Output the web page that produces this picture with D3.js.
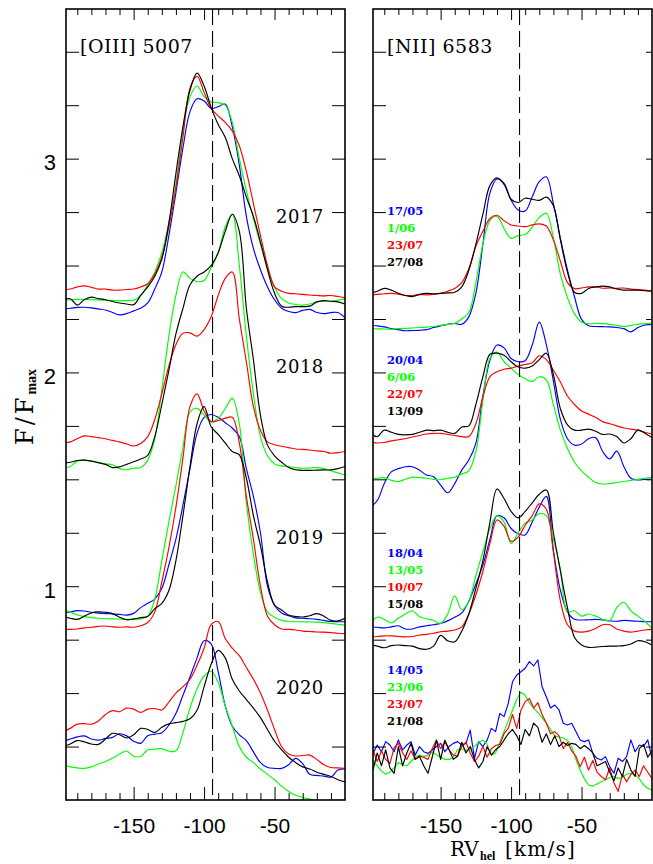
<!DOCTYPE html>
<html>
<head>
<meta charset="utf-8">
<title>[OIII] 5007 and [NII] 6583 line profiles</title>
<script src="https://cdn.jsdelivr.net/npm/d3@7/dist/d3.min.js"></script>
<style>
  body { margin: 0; background: #fff; }
  svg { display: block; }
</style>
</head>
<body>
<div id="chart"></div>
<script>
// velocity grids (km/s)
const rv = [-200,-195,-190,-185,-180,-175,-170,-165,-160,-155,-150,-145,-140,-135,-130,-125,-120,-115,-110,-105,-100,
  -95,-90,-85,-80,-75,-70,-65,-60,-55,-50,-45,-40,-35,-30,-25,-20,-15,-10,-5,0];
const rvFine = [-198,-195,-192,-189,-186,-183,-180,-177,-174,-171,-168,-165,-162,-159,-156,-153,-150,-147,-144,-141,
  -138,-135,-132,-129,-126,-123,-120,-117,-114,-111,-108,-105,-102,-99,-96,-93,-90,-87,-84,-81,-78,-75,-72,-69,-66,
  -63,-60,-57,-54,-51,-48,-45,-42,-39,-36,-33,-30,-27,-24,-21,-18,-15,-12,-9,-6,-3,0];

// [OIII] 5007, F/Fmax (offset per year), on rv
const o3_2017_blue = [2.297,2.300,2.304,2.305,2.302,2.297,2.292,2.28,2.269,2.275,2.288,2.300,2.325,2.39,2.47,2.64,2.84,3.05,3.22,3.28,3.27,3.235,3.243,3.255,3.15,2.97,2.73,2.58,2.48,2.40,2.34,2.30,2.285,2.28,2.29,2.295,2.28,2.275,2.28,2.28,2.255];
const o3_2017_green = [2.339,2.34,2.342,2.342,2.34,2.339,2.338,2.337,2.336,2.336,2.337,2.36,2.41,2.47,2.56,2.70,2.88,3.13,3.29,3.34,3.29,3.265,3.262,3.25,3.17,3.00,2.85,2.72,2.60,2.49,2.40,2.345,2.325,2.318,2.315,2.32,2.33,2.333,2.333,2.338,2.344];
const o3_2017_red = [2.385,2.39,2.40,2.405,2.398,2.39,2.39,2.385,2.385,2.388,2.39,2.40,2.415,2.46,2.54,2.68,2.865,3.10,3.33,3.385,3.31,3.235,3.20,3.17,3.13,3.06,2.94,2.79,2.64,2.50,2.40,2.38,2.37,2.368,2.365,2.362,2.36,2.358,2.36,2.355,2.35];
const o3_2017_black = [2.34,2.345,2.315,2.34,2.352,2.345,2.34,2.332,2.325,2.32,2.317,2.36,2.40,2.45,2.53,2.70,2.93,3.15,3.32,3.40,3.34,3.24,3.16,3.10,3.00,2.92,2.82,2.73,2.61,2.48,2.37,2.31,2.305,2.308,2.308,2.31,2.33,2.336,2.333,2.33,2.32];

const o3_2018_green = [1.552,1.56,1.585,1.59,1.585,1.578,1.572,1.568,1.55,1.545,1.552,1.555,1.59,1.69,1.92,2.17,2.36,2.47,2.44,2.425,2.43,2.49,2.56,2.68,2.74,2.50,2.17,1.90,1.70,1.61,1.572,1.563,1.56,1.555,1.552,1.553,1.555,1.55,1.54,1.53,1.52];
const o3_2018_red = [1.67,1.675,1.69,1.703,1.70,1.695,1.69,1.682,1.675,1.665,1.656,1.668,1.70,1.78,1.90,2.03,2.13,2.183,2.185,2.17,2.20,2.26,2.36,2.44,2.47,2.25,2.05,1.84,1.73,1.675,1.662,1.655,1.648,1.642,1.64,1.637,1.633,1.63,1.622,1.625,1.63];
const o3_2018_black = [1.575,1.58,1.588,1.59,1.585,1.578,1.57,1.555,1.558,1.57,1.582,1.595,1.612,1.70,1.85,2.01,2.18,2.30,2.41,2.45,2.47,2.50,2.56,2.66,2.74,2.66,2.30,2.06,1.80,1.66,1.61,1.58,1.555,1.545,1.542,1.542,1.543,1.544,1.544,1.55,1.56];

const o3_2019_blue = [0.875,0.88,0.886,0.884,0.878,0.874,0.872,0.87,0.868,0.865,0.873,0.90,0.92,0.94,0.99,1.10,1.22,1.38,1.55,1.715,1.79,1.803,1.79,1.765,1.74,1.70,1.55,1.42,1.25,1.00,0.91,0.875,0.862,0.852,0.85,0.848,0.845,0.84,0.835,0.834,0.834];
const o3_2019_green = [0.89,0.88,0.865,0.858,0.853,0.85,0.848,0.847,0.846,0.845,0.845,0.847,0.86,0.94,1.12,1.30,1.47,1.65,1.815,1.832,1.80,1.77,1.785,1.83,1.88,1.76,1.39,1.15,0.97,0.88,0.855,0.84,0.836,0.834,0.834,0.833,0.832,0.83,0.826,0.822,0.818];
const o3_2019_red = [0.80,0.798,0.80,0.805,0.808,0.812,0.814,0.81,0.808,0.81,0.808,0.815,0.83,0.88,1.02,1.18,1.37,1.60,1.84,1.90,1.82,1.77,1.775,1.786,1.79,1.67,1.42,1.22,1.00,0.86,0.82,0.80,0.798,0.795,0.79,0.788,0.786,0.785,0.783,0.78,0.778];
const o3_2019_black = [0.86,0.85,0.845,0.86,0.875,0.88,0.878,0.872,0.855,0.843,0.847,0.853,0.858,0.895,0.92,0.98,1.12,1.33,1.56,1.76,1.84,1.746,1.71,1.67,1.63,1.614,1.505,1.33,1.19,1.02,0.912,0.889,0.865,0.858,0.856,0.862,0.872,0.86,0.84,0.838,0.85];

const o3_2020_blue = [0.273,0.285,0.295,0.30,0.285,0.28,0.288,0.293,0.31,0.30,0.275,0.265,0.30,0.308,0.315,0.35,0.405,0.49,0.575,0.665,0.745,0.73,0.60,0.44,0.345,0.305,0.278,0.225,0.175,0.152,0.148,0.148,0.165,0.195,0.17,0.12,0.115,0.112,0.107,0.14,0.145];
const o3_2020_green = [0.163,0.155,0.15,0.148,0.155,0.168,0.18,0.195,0.215,0.229,0.205,0.205,0.234,0.238,0.24,0.228,0.23,0.315,0.43,0.52,0.58,0.602,0.55,0.44,0.345,0.25,0.20,0.175,0.145,0.12,0.095,0.065,0.04,0.022,0.012,0.004,-0.004,-0.006,-0.004,0.0,-0.002];
const o3_2020_red = [0.32,0.335,0.355,0.357,0.355,0.37,0.40,0.418,0.413,0.43,0.425,0.41,0.425,0.428,0.421,0.458,0.50,0.53,0.565,0.63,0.71,0.82,0.835,0.755,0.71,0.675,0.62,0.565,0.50,0.42,0.33,0.25,0.215,0.206,0.208,0.21,0.19,0.165,0.152,0.15,0.148];
const o3_2020_black = [0.25,0.262,0.278,0.272,0.262,0.26,0.285,0.312,0.305,0.29,0.305,0.335,0.33,0.316,0.34,0.356,0.362,0.368,0.38,0.42,0.53,0.635,0.70,0.665,0.565,0.51,0.47,0.43,0.385,0.33,0.275,0.235,0.20,0.175,0.155,0.145,0.13,0.12,0.11,0.095,0.085];

// [NII] 6583, on rv (2017-2019) and rvFine (2020)
const n2_2017_blue = [2.22,2.218,2.213,2.205,2.20,2.195,2.196,2.197,2.20,2.21,2.218,2.225,2.229,2.225,2.26,2.37,2.60,2.84,2.905,2.884,2.806,2.76,2.755,2.822,2.892,2.915,2.79,2.627,2.478,2.354,2.248,2.218,2.215,2.214,2.213,2.21,2.205,2.19,2.21,2.222,2.225];
const n2_2017_green = [2.205,2.204,2.203,2.202,2.205,2.206,2.208,2.21,2.212,2.215,2.22,2.225,2.23,2.25,2.28,2.42,2.60,2.71,2.73,2.673,2.627,2.64,2.645,2.68,2.725,2.745,2.63,2.46,2.35,2.275,2.235,2.228,2.23,2.228,2.225,2.22,2.215,2.22,2.225,2.228,2.23];
const n2_2017_red = [2.362,2.365,2.368,2.37,2.366,2.36,2.36,2.364,2.363,2.365,2.37,2.38,2.393,2.42,2.485,2.59,2.66,2.72,2.735,2.71,2.69,2.685,2.682,2.69,2.695,2.685,2.62,2.52,2.42,2.392,2.395,2.40,2.40,2.394,2.395,2.393,2.395,2.39,2.388,2.385,2.38];
const n2_2017_black = [2.37,2.38,2.393,2.385,2.37,2.36,2.355,2.365,2.37,2.368,2.37,2.372,2.375,2.40,2.478,2.60,2.74,2.875,2.91,2.88,2.81,2.795,2.815,2.81,2.805,2.82,2.78,2.62,2.47,2.375,2.37,2.393,2.40,2.404,2.40,2.39,2.385,2.385,2.385,2.382,2.38];

const n2_2018_blue = [1.37,1.40,1.48,1.535,1.55,1.559,1.559,1.543,1.52,1.512,1.473,1.437,1.48,1.543,1.59,1.668,1.89,2.058,2.128,2.115,2.065,2.05,2.055,2.128,2.235,2.13,1.96,1.78,1.69,1.66,1.665,1.69,1.695,1.63,1.595,1.632,1.56,1.505,1.497,1.50,1.50];
const n2_2018_green = [1.504,1.505,1.508,1.495,1.49,1.50,1.51,1.508,1.505,1.50,1.498,1.505,1.51,1.525,1.54,1.63,1.87,2.065,2.095,2.05,2.02,1.99,1.97,1.958,1.98,1.965,1.85,1.73,1.645,1.58,1.54,1.51,1.485,1.478,1.48,1.485,1.49,1.495,1.50,1.505,1.51];
const n2_2018_red = [1.676,1.67,1.672,1.68,1.685,1.69,1.698,1.705,1.712,1.715,1.715,1.71,1.705,1.70,1.70,1.76,1.886,1.98,2.003,2.015,2.02,2.03,2.037,2.045,2.078,2.06,2.01,1.955,1.89,1.85,1.82,1.805,1.79,1.77,1.76,1.75,1.74,1.735,1.73,1.72,1.712];
const n2_2018_black = [1.715,1.70,1.73,1.72,1.71,1.708,1.71,1.72,1.73,1.728,1.73,1.72,1.715,1.745,1.75,1.85,1.98,2.085,2.09,2.08,2.05,2.025,2.02,2.03,2.06,2.09,1.99,1.83,1.755,1.73,1.73,1.735,1.725,1.71,1.712,1.70,1.67,1.69,1.73,1.715,1.695];

const n2_2019_blue = [0.81,0.808,0.805,0.81,0.815,0.80,0.80,0.81,0.815,0.82,0.826,0.838,0.855,0.875,0.93,1.01,1.10,1.22,1.33,1.32,1.27,1.245,1.24,1.30,1.37,1.42,1.17,0.98,0.88,0.845,0.842,0.843,0.845,0.842,0.838,0.836,0.84,0.838,0.836,0.834,0.834];
const n2_2019_green = [0.826,0.855,0.845,0.828,0.85,0.87,0.885,0.857,0.848,0.84,0.826,0.87,0.955,0.89,0.93,1.05,1.16,1.27,1.33,1.30,1.20,1.25,1.295,1.31,1.34,1.33,1.22,1.08,0.88,0.885,0.86,0.87,0.86,0.845,0.84,0.90,0.925,0.885,0.86,0.835,0.803];
const n2_2019_red = [0.761,0.765,0.768,0.768,0.765,0.763,0.765,0.772,0.775,0.78,0.787,0.79,0.795,0.81,0.87,0.96,1.07,1.20,1.31,1.28,1.21,1.23,1.285,1.33,1.385,1.36,1.16,0.93,0.82,0.79,0.785,0.79,0.802,0.82,0.82,0.80,0.79,0.785,0.79,0.795,0.798];
const n2_2019_black = [0.725,0.72,0.712,0.722,0.725,0.722,0.72,0.708,0.705,0.72,0.77,0.745,0.74,0.79,0.87,0.99,1.12,1.30,1.455,1.41,1.35,1.32,1.35,1.39,1.43,1.45,1.25,1.07,0.90,0.76,0.725,0.714,0.715,0.718,0.72,0.72,0.722,0.73,0.745,0.74,0.725];

const n2_2020_blue = [0.218,0.257,0.226,0.273,0.257,0.226,0.281,0.234,0.257,0.273,0.21,0.25,0.226,0.218,0.234,0.25,0.265,0.226,0.25,0.265,
  0.273,0.257,0.265,0.327,0.195,0.273,0.25,0.28,0.335,0.32,0.405,0.39,0.452,0.553,0.585,0.60,0.616,0.647,0.627,0.655,
  0.53,0.483,0.43,0.444,0.421,0.359,0.351,0.359,0.32,0.281,0.273,0.281,0.218,0.195,0.187,0.203,0.156,0.125,0.195,0.18,
  0.203,0.281,0.226,0.257,0.25,0.281,0.195];
const n2_2020_green = [0.187,0.16,0.135,0.12,0.13,0.15,0.175,0.165,0.16,0.18,0.20,0.21,0.203,0.21,0.225,0.212,0.20,0.19,0.19,0.20,
  0.235,0.24,0.232,0.24,0.25,0.27,0.28,0.26,0.21,0.22,0.27,0.32,0.37,0.42,0.47,0.505,0.49,0.455,0.43,0.41,
  0.385,0.36,0.33,0.30,0.295,0.29,0.28,0.25,0.19,0.14,0.10,0.07,0.065,0.075,0.085,0.095,0.105,0.11,0.10,0.105,
  0.12,0.125,0.12,0.10,0.07,0.055,0.047];
const n2_2020_red = [0.234,0.18,0.23,0.19,0.17,0.245,0.265,0.22,0.19,0.23,0.19,0.205,0.20,0.19,0.24,0.28,0.24,0.272,0.235,0.21,
  0.205,0.25,0.27,0.22,0.18,0.205,0.25,0.20,0.24,0.255,0.26,0.31,0.335,0.40,0.335,0.42,0.46,0.475,0.43,0.455,
  0.40,0.36,0.31,0.32,0.30,0.24,0.27,0.23,0.205,0.155,0.20,0.14,0.185,0.13,0.11,0.095,0.15,0.08,0.04,0.12,
  0.085,0.12,0.14,0.11,0.16,0.13,0.10];
const n2_2020_black = [0.14,0.22,0.16,0.235,0.15,0.125,0.25,0.16,0.22,0.265,0.19,0.205,0.16,0.125,0.20,0.28,0.19,0.28,0.235,0.19,
  0.205,0.27,0.22,0.25,0.19,0.15,0.18,0.25,0.21,0.235,0.25,0.28,0.31,0.33,0.30,0.26,0.33,0.30,0.36,0.34,
  0.27,0.31,0.26,0.30,0.25,0.27,0.255,0.265,0.26,0.24,0.255,0.24,0.22,0.16,0.17,0.18,0.13,0.09,0.15,0.11,
  0.19,0.14,0.11,0.24,0.26,0.20,0.23];

// labels, ticks
const years = ["2017", "2018", "2019", "2020"];
const seriesColors = ["#0000ff", "#00ff00", "#ff0000", "#000000"];
const niiDates = [
  ["17/05", "1/06", "23/07", "27/08"],
  ["20/04", "6/06", "22/07", "13/09"],
  ["18/04", "13/05", "10/07", "15/08"],
  ["14/05", "23/06", "23/07", "21/08"]
];
const xMajorTicks = [-150, -100, -50];
const xMinorTicks = [-190, -180, -170, -160, -140, -130, -120, -110, -90, -80, -70, -60, -40, -30, -20, -10];
const yTicks = [0.25, 0.5, 0.75, 1, 1.25, 1.5, 1.75, 2, 2.25, 2.5, 2.75, 3, 3.25, 3.5];
const yTickLabels = [1, 2, 3];
const systemicRV = -94;

const oiiiSets = [
  [o3_2017_blue, o3_2017_green, o3_2017_red, o3_2017_black],
  [null, o3_2018_green, o3_2018_red, o3_2018_black],
  [o3_2019_blue, o3_2019_green, o3_2019_red, o3_2019_black],
  [o3_2020_blue, o3_2020_green, o3_2020_red, o3_2020_black]
];
const niiSets = [
  [n2_2017_blue, n2_2017_green, n2_2017_red, n2_2017_black],
  [n2_2018_blue, n2_2018_green, n2_2018_red, n2_2018_black],
  [n2_2019_blue, n2_2019_green, n2_2019_red, n2_2019_black],
  [n2_2020_blue, n2_2020_green, n2_2020_red, n2_2020_black]
];

//size
const width = 653, height = 864;
const plotTop = 9, plotBottom = 800, panelWidth = 279;
const serif = "'DejaVu Serif', serif";
const sans = "'Liberation Sans', Arial, sans-serif";

const svg = d3.select("#chart").append("svg").attr("width", width).attr("height", height);
const defs = svg.append("defs");

const y = d3.scaleLinear().domain([0, 3.7]).range([plotBottom, plotTop]);

function toCurves(sets, noisyYear) {
  const out = [];
  sets.forEach((set, yi) => {
    set.forEach((vals, ci) => {
      if (!vals) return;
      const grid = yi === noisyYear ? rvFine : rv;
      out.push({ color: seriesColors[ci], noisy: yi === noisyYear, pts: d3.zip(grid, vals) });
    });
  });
  return out;
}

const panels = [
  { key: "oiii", left: 66, title: "[OIII] 5007", curves: toCurves(oiiiSets, -1), yLabels: true, rightTick: 13 },
  { key: "nii", left: 373, title: "[NII] 6583", curves: toCurves(niiSets, 3), yLabels: false, rightTick: 6 }
];

panels.forEach(drawPanel);

function cleanAxis(g) {
  g.select(".domain").remove();
  g.attr("font-family", sans).attr("font-size", 21);
  g.selectAll(".tick line").attr("stroke", "#000").attr("stroke-width", 1);
}

function drawPanel(p) {
  const x = d3.scaleLinear().domain([-198, 0]).range([p.left, p.left + panelWidth]);
  const g = svg.append("g");

  defs.append("clipPath").attr("id", "clip-" + p.key)
    .append("rect")
    .attr("x", p.left).attr("y", plotTop)
    .attr("width", panelWidth).attr("height", plotBottom - plotTop);

  //lines
  const smooth = d3.line().x((d) => x(d[0])).y((d) => y(d[1])).curve(d3.curveCatmullRom.alpha(0.5));
  const raw = d3.line().x((d) => x(d[0])).y((d) => y(d[1]));

  g.append("g")
    .attr("clip-path", `url(#clip-${p.key})`)
    .selectAll("path")
    .data(p.curves)
    .join("path")
    .attr("fill", "none")
    .attr("stroke", (d) => d.color)
    .attr("stroke-width", 1.15)
    .attr("stroke-linejoin", "round")
    .attr("d", (d) => (d.noisy ? raw : smooth)(d.pts));

  //systemic velocity
  g.append("line")
    .attr("x1", x(systemicRV)).attr("x2", x(systemicRV))
    .attr("y1", plotTop).attr("y2", plotBottom)
    .attr("stroke", "#000").attr("stroke-width", 1.1)
    .attr("stroke-dasharray", "16,6");

  //axes
  g.append("g").attr("transform", `translate(0,${plotBottom})`)
    .call(d3.axisBottom(x).tickValues(xMinorTicks).tickSize(-7).tickFormat(""))
    .call(cleanAxis);
  g.append("g").attr("transform", `translate(0,${plotBottom})`)
    .call(d3.axisBottom(x).tickValues(xMajorTicks).tickSize(-13).tickPadding(18).tickFormat((d) => String(d)))
    .call(cleanAxis);
  g.append("g").attr("transform", `translate(0,${plotTop})`)
    .call(d3.axisTop(x).tickValues(xMinorTicks).tickSize(-6).tickFormat(""))
    .call(cleanAxis);
  g.append("g").attr("transform", `translate(0,${plotTop})`)
    .call(d3.axisTop(x).tickValues(xMajorTicks).tickSize(-11).tickFormat(""))
    .call(cleanAxis);

  const left = g.append("g").attr("transform", `translate(${p.left},0)`)
    .call(d3.axisLeft(y).tickValues(yTicks).tickSize(-13).tickPadding(10)
      .tickFormat((d) => (p.yLabels && yTickLabels.includes(d) ? String(d) : "")))
    .call(cleanAxis);
  left.selectAll(".tick text").attr("dy", "0.5em").attr("font-size", 22);

  g.append("g").attr("transform", `translate(${p.left + panelWidth},0)`)
    .call(d3.axisRight(y).tickValues(yTicks).tickSize(-p.rightTick).tickFormat(""))
    .call(cleanAxis);

  //frame
  g.append("rect")
    .attr("x", p.left).attr("y", plotTop)
    .attr("width", panelWidth).attr("height", plotBottom - plotTop)
    .attr("fill", "none").attr("stroke", "#000").attr("stroke-width", 1.6);

  //title
  g.append("text")
    .attr("x", p.left + 14).attr("y", 53)
    .attr("font-family", serif).attr("font-size", 19)
    .style("letter-spacing", "0.5px")
    .text(p.title);
}

//year labels, left panel
const yearBaselines = [223, 373, 544, 694];
svg.append("g").selectAll("text")
  .data(years)
  .join("text")
  .attr("x", 276)
  .attr("y", (d, i) => yearBaselines[i])
  .attr("font-family", serif).attr("font-size", 18)
  .style("letter-spacing", "0.5px")
  .text((d) => d);

//date labels, right panel
const dateBaselines = [215, 364.3, 556.7, 674];
const dateGroup = svg.append("g");
niiDates.forEach((list, yi) => {
  dateGroup.selectAll(null)
    .data(list)
    .join("text")
    .attr("x", 387)
    .attr("y", (d, i) => dateBaselines[yi] + i * 17)
    .attr("fill", (d, i) => seriesColors[i])
    .attr("font-family", serif).attr("font-size", 11.5).attr("font-weight", "bold")
    .text((d) => d);
});

//axis titles
const yTitle = svg.append("text")
  .attr("transform", "translate(33,445) rotate(-90)")
  .attr("font-family", serif).attr("font-size", 24);
yTitle.append("tspan").style("letter-spacing", "3px").text("F/F");
yTitle.append("tspan")
  .attr("dy", 3)
  .attr("font-family", "'Liberation Serif', serif").attr("font-size", 14).attr("font-weight", "bold")
  .text("max");

svg.append("text").attr("x", 450).attr("y", 856)
  .attr("font-family", serif).attr("font-size", 20).text("RV");
svg.append("text").attr("x", 480).attr("y", 860)
  .attr("font-family", "'Liberation Serif', serif").attr("font-size", 12).attr("font-weight", "bold").text("hel");
svg.append("text").attr("x", 505).attr("y", 856)
  .attr("font-family", serif).attr("font-size", 20).style("letter-spacing", "1.2px").text("[km/s]");
</script>
</body>
</html>
